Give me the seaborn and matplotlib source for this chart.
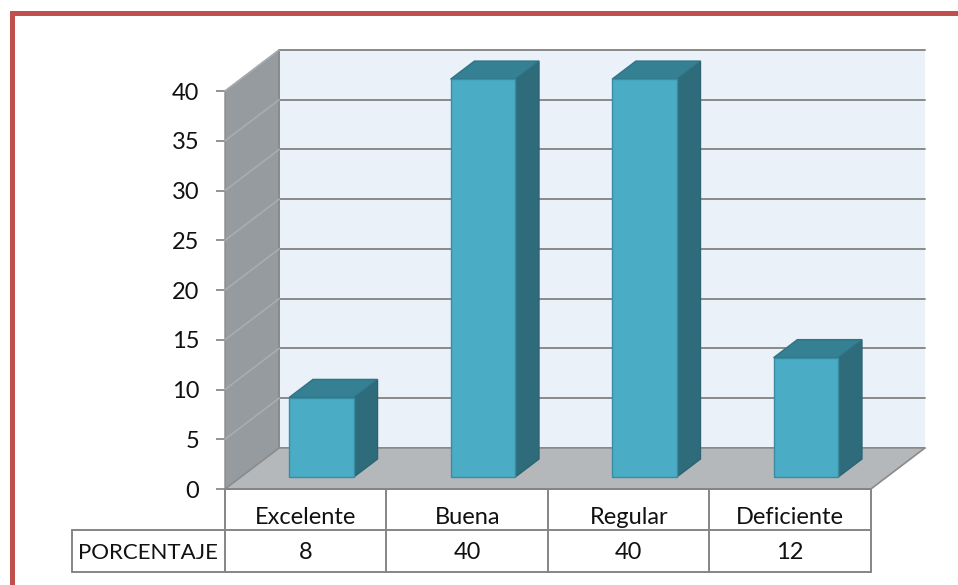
import numpy as np
import pandas as pd
import matplotlib.pyplot as plt
import seaborn as sns
from matplotlib.patches import Polygon
from matplotlib.lines import Line2D
from matplotlib.transforms import Affine2D

# Datos
categorias = ["Excelente", "Buena", "Regular", "Deficiente"]
porcentaje = [8, 40, 40, 12]
fila_nombre = "PORCENTAJE"
ticks_y = [0, 5, 10, 15, 20, 25, 30, 35, 40]

sns.set_theme(style="white")
plt.rcParams["font.family"] = ["Lato", "DejaVu Sans"]

df = pd.DataFrame({"categoria": categorias, "porcentaje": porcentaje})

fig = plt.figure(figsize=(9.58, 5.85), dpi=100)
ax = fig.add_axes([225 / 958, 96 / 585, 700 / 958, 439 / 585])

# profundidad del efecto 3D (en unidades de datos)
DX, DY = 0.335, 4.13
ymax = 40
x0, x1 = -0.5, 3.5
d0, d1 = 0.29, 0.73

sns.barplot(data=df, x="categoria", y="porcentaje", width=0.4, color="#4BACC6",
            saturation=1, edgecolor="#3A8CA2", linewidth=1, zorder=6, ax=ax)
barras = list(ax.patches)

gris_linea = "#8A8A8A"

# pared izquierda
ax.add_patch(Polygon([(x0, 0), (x0, ymax), (x0 + DX, ymax + DY), (x0 + DX, DY)],
                     closed=True, facecolor="#959B9E", edgecolor=gris_linea, lw=1, zorder=1, clip_on=False))
# pared del fondo
ax.add_patch(Polygon([(x0 + DX, DY), (x0 + DX, ymax + DY), (x1 + DX, ymax + DY), (x1 + DX, DY)],
                     closed=True, facecolor="#EAF1F8", edgecolor="none", zorder=1, clip_on=False))
ax.plot([x0 + DX, x0 + DX], [DY, ymax + DY], color=gris_linea, lw=1.4, zorder=2, clip_on=False)
# lineas de division
for v in ticks_y:
    ax.plot([x0 + DX, x1 + DX], [v + DY, v + DY], color=gris_linea, lw=1.4, zorder=2, clip_on=False)
    ax.plot([x0, x0 + DX], [v, v + DY], color="#A9ADB0", lw=1.2, zorder=2, clip_on=False)
# piso
ax.add_patch(Polygon([(x0, 0), (x1, 0), (x1 + DX, DY), (x0 + DX, DY)],
                     closed=True, facecolor="#B4B8BB", edgecolor=gris_linea, lw=1.2, zorder=3, clip_on=False))

# caras 3D de las barras
ox, oy = d0 * DX, d0 * DY
bdx, bdy = (d1 - d0) * DX, (d1 - d0) * DY
desplaza = Affine2D().translate(ox, oy) + ax.transData
for p in barras:
    bx, w, h = p.get_x(), p.get_width(), p.get_height()
    p.set_transform(desplaza)
    p.set_clip_on(False)
    lado = Polygon([(bx + w, 0), (bx + w + bdx, bdy), (bx + w + bdx, h + bdy), (bx + w, h)],
                   closed=True, facecolor="#2F6C7B", edgecolor="#2B6372", lw=1,
                   transform=desplaza, zorder=5, clip_on=False)
    tapa = Polygon([(bx, h), (bx + w, h), (bx + w + bdx, h + bdy), (bx + bdx, h + bdy)],
                   closed=True, facecolor="#358093", edgecolor="#2F7486", lw=1,
                   transform=desplaza, zorder=5, clip_on=False)
    ax.add_patch(lado)
    ax.add_patch(tapa)

ax.set_xlim(x0, x1 + DX)
ax.set_ylim(0, ymax + DY)
ax.set_facecolor("none")
for s in ax.spines.values():
    s.set_visible(False)
ax.set_xlabel("")
ax.set_ylabel("")
ax.set_yticks(ticks_y)
ax.tick_params(axis="y", left=True, length=6.5, width=1.3, color=gris_linea,
               pad=12, labelsize=17, labelcolor="#111111")
ax.tick_params(axis="x", bottom=False, labelbottom=False)

# tabla de datos
r1, r2 = -4.12, -8.35
xl = -1.4475
col_tabla = "#858585"
ax.plot([x0, x1], [0, 0], color=col_tabla, lw=1.4, zorder=4, clip_on=False)
ax.plot([xl, x1], [r1, r1], color=col_tabla, lw=1.4, clip_on=False)
ax.plot([xl, x1], [r2, r2], color=col_tabla, lw=1.4, clip_on=False)
for xv in [x0, 0.5, 1.5, 2.5, x1]:
    ax.plot([xv, xv], [0, r2], color=col_tabla, lw=1.4, clip_on=False)
ax.plot([xl, xl], [r1, r2], color=col_tabla, lw=1.4, clip_on=False)

for i, (c, v) in enumerate(zip(categorias, porcentaje)):
    ax.text(i, -3.52, c, ha="center", va="baseline", fontsize=17, color="#111111", clip_on=False)
    ax.text(i, -7.05, str(v), ha="center", va="baseline", fontsize=17, color="#111111", clip_on=False)
ax.text(xl + 0.04, -7.05, fila_nombre, ha="left", va="baseline", fontsize=16, color="#111111", clip_on=False)

# marco rojo
fig.add_artist(Line2D([12 / 958, 12 / 958, 1.0], [0.0, 1 - 13 / 585, 1 - 13 / 585],
                      transform=fig.transFigure, color="#C0504D", lw=3.6,
                      solid_joinstyle="miter"))

fig.savefig("out.png", dpi=100)
